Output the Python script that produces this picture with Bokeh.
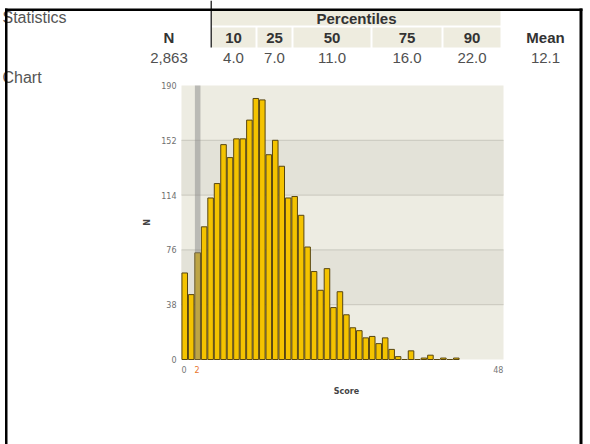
import math
from bokeh.plotting import figure
from bokeh.models import Range1d, ColumnDataSource
from bokeh.core.properties import value
from bokeh.embed import file_html
from bokeh.resources import INLINE

# ---- data ----
scores = list(range(43))
counts = [60, 45, 74, 92, 112, 122, 149, 140, 153, 153, 166, 181, 180, 142, 152,
          134, 112, 113, 100, 78, 61, 48, 63, 36, 47, 31, 22, 20, 15, 16, 11, 15,
          7, 2, 0, 6, 0, 1, 3, 0, 1, 0, 1]
y_ticks = [0, 38, 76, 114, 152, 190]
x_tick_values = [0, 2, 48]
x_tick_labels = ["0", "2", "48"]
highlight_score = 2
n_total = "2,863"
pct_labels = ["10", "25", "50", "75", "90"]
pct_values = ["4.0", "7.0", "11.0", "16.0", "22.0"]
mean_value = "12.1"

# ---- page canvas (data coords == page pixels) ----
W, H = 590, 444
p = figure(width=W, height=H, output_backend="svg", toolbar_location=None,
           x_range=Range1d(0, W), y_range=Range1d(H, 0),
           x_axis_location=None, y_axis_location=None,
           min_border=0, min_border_left=0, min_border_right=0,
           min_border_top=0, min_border_bottom=0,
           background_fill_color="white", border_fill_color="white",
           outline_line_color=None)
p.grid.visible = False

TABLE_FONT = value("Liberation Sans")
AXIS_FONT = value("DejaVu Sans")


def box(x0, y0, x1, y1, color):
    p.quad(left=[x0], right=[x1], top=[y0], bottom=[y1], fill_color=color,
           line_color=None)


def txt(text, x, y, size=15, bold=False, color="#505050", align="center"):
    p.text(x=[x], y=[y], text=[text], text_font=TABLE_FONT, text_font_size=f"{size}px",
           text_font_style="bold" if bold else "normal", text_color=color,
           text_align=align, text_baseline="middle")


# ---- histogram sub-plot placed in its frame ----
x_max = 49.8
y_max = y_ticks[-1]
xy = p.subplot(x_source=Range1d(0, x_max), y_source=Range1d(0, y_max),
               x_target=Range1d(181, 503), y_target=Range1d(359, 85))

xy.quad(left=[0], right=[x_max], bottom=[0], top=[y_max], fill_color="#edece2", line_color=None)
for lo, hi in zip(y_ticks[1::2], y_ticks[2::2]):
    xy.quad(left=[0], right=[x_max], bottom=[lo], top=[hi], fill_color="#e3e2d8", line_color=None)
grid_y = y_ticks[1:-1]
xy.segment(x0=[0] * len(grid_y), x1=[x_max] * len(grid_y), y0=grid_y, y1=grid_y,
           line_color="#c8c7bd", line_width=1)

src = ColumnDataSource(dict(x=[s + 0.5 for s in scores], top=counts))
xy.vbar(x="x", top="top", width=0.86, bottom=0, source=src,
        fill_color="#f4c300", line_color="#584610", line_width=1)

xy.quad(left=[highlight_score + 0.07], right=[highlight_score + 0.93], bottom=[0], top=[y_max],
        fill_color="#888888", fill_alpha=0.5, line_color=None)

# y tick labels
xy.text(x=[0] * len(y_ticks), y=y_ticks, text=[str(t) for t in y_ticks],
        x_offset=-5, text_font=AXIS_FONT, text_font_size="8px", text_color="#6f6f6f",
        text_align="right", text_baseline="middle")

# x tick labels
xpos = [v + (1.0 if v == max(x_tick_values) else 0.4) for v in x_tick_values]
xcol = ["#e8742a" if v == highlight_score else "#777777" for v in x_tick_values]
xy.text(x=xpos, y=[0] * len(xpos), text=x_tick_labels, y_offset=10,
        text_font=AXIS_FONT, text_font_size="8px", text_color=xcol,
        text_align="center", text_baseline="middle")

# axis titles
p.text(x=[346], y=[391], text=["Score"], text_font=AXIS_FONT, text_font_size="8px",
       text_font_style="bold", text_color="#444444", text_align="center", text_baseline="middle")
p.text(x=[147], y=[222], text=["N"], angle=math.pi / 2, text_font=AXIS_FONT,
       text_font_size="8px", text_font_style="bold", text_color="#444444",
       text_align="center", text_baseline="middle")

# ---- table ----
box(211, 10.5, 500, 25, "#eeecdf")
cells = [(211, 255), (257, 291), (293, 370), (372, 441), (443, 500)]
for a, b in cells:
    box(a, 27, b, 47, "#eeecdf")
box(210, 0, 211.5, 47, "#3a3a3a")

txt("Statistics", 2, 17, size=16, color="#555555", align="left")
txt("Chart", 2, 77, size=16, color="#555555", align="left")
txt("Percentiles", 356, 17.5, bold=True, color="#333333")
txt("N", 168.5, 37, bold=True, color="#333333")
txt("Mean", 545, 37, bold=True, color="#333333")
txt(n_total, 168.5, 57)
txt(mean_value, 545, 57)
for (a, b), lab, val in zip(cells, pct_labels, pct_values):
    c = (a + b) / 2
    txt(lab, c, 37, bold=True, color="#333333")
    txt(val, c, 57)

# black frame lines (drawn over the cut-off section titles)
box(4.5, 8, 582, 10.5, "#000000")
box(4.5, 8, 7, 444, "#000000")
box(579, 8, 582, 444, "#000000")

open("out.html", "w").write(file_html(p, INLINE))
